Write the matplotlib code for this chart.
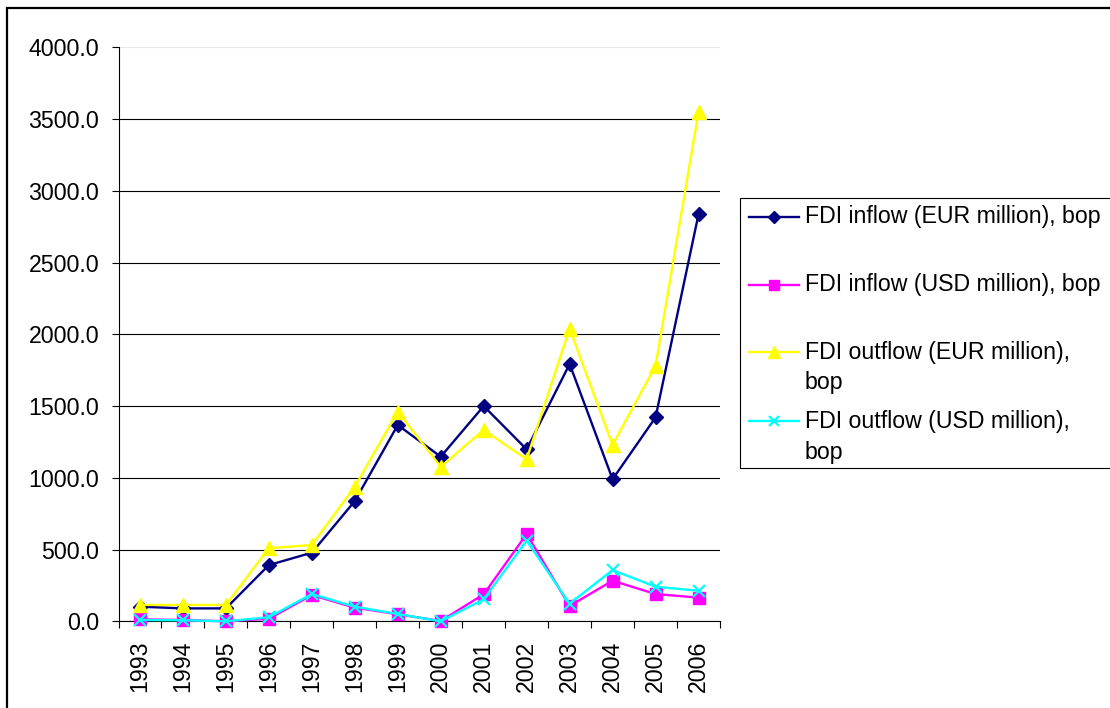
import matplotlib
matplotlib.use("Agg")
import matplotlib.pyplot as plt
from matplotlib.lines import Line2D
from matplotlib.patches import Rectangle
from matplotlib.ticker import FixedLocator, FormatStrFormatter

plt.rcParams['font.family'] = ['Liberation Sans', 'DejaVu Sans']

# FDI flows, balance of payments basis
years = ['1993', '1994', '1995', '1996', '1997', '1998', '1999',
         '2000', '2001', '2002', '2003', '2004', '2005', '2006']
fdi_inflow_eur = [102, 90, 90, 392, 478, 838, 1368, 1147, 1500, 1198, 1793, 990, 1421, 2836]
fdi_inflow_usd = [14, 9, 0, 18, 183, 95, 49, 2, 188, 608, 107, 283, 190, 165]
fdi_outflow_eur = [114, 114, 114, 509, 532, 938, 1461, 1077, 1333, 1129, 2040, 1229, 1780, 3550]
fdi_outflow_usd = [9, 7, 0, 28, 190, 102, 51, 0, 153, 562, 123, 357, 241, 213]

series_labels = ['FDI inflow (EUR million), bop',
                 'FDI inflow (USD million), bop',
                 'FDI outflow (EUR million),\nbop',
                 'FDI outflow (USD million),\nbop']
y_ticks = [0, 500, 1000, 1500, 2000, 2500, 3000, 3500, 4000]

W, H = 1110, 708
FS = 16.7


def fx(px):
    return px / W


def fy(py):
    return 1 - py / H


fig = plt.figure(figsize=(W / 100, H / 100), dpi=100)
fig.patch.set_facecolor('white')

left, right, top, bottom = 118.5, 720, 47.3, 621.3
ax = fig.add_axes([fx(left), fy(bottom), (right - left) / W, (bottom - top) / H])

styles = [
    dict(color='#000080', marker='D', ms=7.0, mec='#000080', mfc='#000080', mew=1.0),
    dict(color='#FF00FF', marker='s', ms=8.0, mec='#FF00FF', mfc='#FF00FF', mew=1.0),
    dict(color='#FFFF00', marker='^', ms=10.0, mec='#FFFF00', mfc='#FFFF00', mew=1.0),
    dict(color='#00FFFF', marker='x', ms=8.5, mec='#00FFFF', mfc='#00FFFF', mew=1.6),
]
series = [fdi_inflow_eur, fdi_inflow_usd, fdi_outflow_eur, fdi_outflow_usd]

x = list(range(len(years)))
for vals, st in zip(series, styles):
    ax.plot(x, vals, lw=1.7, clip_on=False, zorder=3, **st)

ax.set_xlim(-0.5, len(years) - 0.5)
ax.set_ylim(0, 4000)

# y axis
ax.yaxis.set_major_locator(FixedLocator(y_ticks))
ax.yaxis.set_major_formatter(FormatStrFormatter('%.1f'))
ax.tick_params(axis='y', direction='out', length=5, width=0.8, pad=9,
               labelsize=FS, colors='black')
ax.yaxis.grid(True, color='black', lw=0.8)
ax.set_axisbelow(True)
gl = ax.yaxis.get_gridlines()
gl[-1].set_color('#e6e6e6')

# x axis: labels at category centres, tick marks between categories
ax.set_xticks(x)
ax.set_xticklabels(years, rotation=90, fontsize=FS)
ax.tick_params(axis='x', which='major', length=0, pad=14)
ax.set_xticks([i - 0.5 for i in range(len(years) + 1)], minor=True)
ax.tick_params(axis='x', which='minor', direction='out', length=5, width=0.8)

for s in ('top', 'right'):
    ax.spines[s].set_visible(False)
for s in ('left', 'bottom'):
    ax.spines[s].set_color('black')
    ax.spines[s].set_linewidth(0.8)

# chart frame
fig.add_artist(Rectangle((fx(7), fy(740)), fx(1200 - 7), fy(8) - fy(740),
                         transform=fig.transFigure, fill=False,
                         edgecolor='black', lw=1.6))

# legend box
fig.add_artist(Rectangle((fx(740), fy(468)), fx(1200 - 740), fy(198) - fy(468),
                         transform=fig.transFigure, fill=False,
                         edgecolor='black', lw=0.8))

rows = [216.7, 285, 352, 421]
for lab, st, ry in zip(series_labels, styles, rows):
    fig.add_artist(Line2D([fx(749), fx(799)], [fy(ry), fy(ry)],
                          transform=fig.transFigure, lw=1.7, color=st['color']))
    fig.add_artist(Line2D([fx(774)], [fy(ry)], transform=fig.transFigure,
                          linestyle='none', marker=st['marker'],
                          ms=st['ms'] * 0.85, mec=st['mec'], mfc=st['mfc'],
                          mew=st['mew']))
    for k, line in enumerate(lab.split('\n')):
        fig.text(fx(805), fy(ry + 31 * k), line, fontsize=FS,
                 va='center', ha='left', color='black')

fig.savefig('out.png', dpi=100)
